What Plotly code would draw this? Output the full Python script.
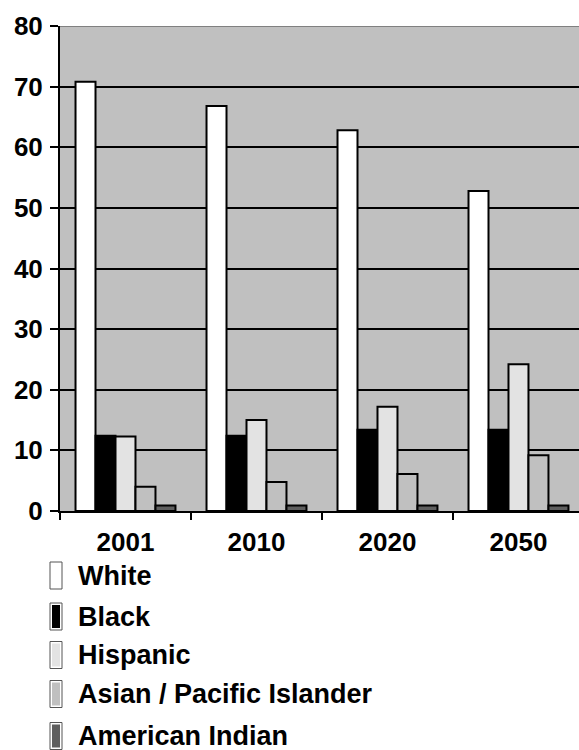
import plotly.graph_objects as go

# Population share by race/ethnicity (%)
years = ["2001", "2010", "2020", "2050"]
series_names = ["White", "Black", "Hispanic", "Asian / Pacific Islander", "American Indian"]
white = [70.8, 66.8, 62.8, 52.8]
black = [12.4, 12.4, 13.4, 13.4]
hispanic = [12.3, 15.0, 17.2, 24.2]
asian = [4.0, 4.8, 6.1, 9.2]
american_indian = [0.9, 0.9, 0.9, 0.9]
y_ticks = [0, 10, 20, 30, 40, 50, 60, 70, 80]

colors = ["#ffffff", "#000000", "#e3e3e3", "#c0c0c0", "#5f5f5f"]
values = [white, black, hispanic, asian, american_indian]

W, H = 579, 750
ML, MR, MT, MB = 60, 0, 26, 239
PW, PH = W - ML - MR, H - MT - MB

FONT = "Liberation Sans, Arial, sans-serif"

fig = go.Figure()
for name, vals, col in zip(series_names, values, colors):
    fig.add_trace(go.Bar(
        x=years, y=vals, name=name,
        marker=dict(color=col, line=dict(color="#000000", width=2)),
        showlegend=False,
    ))


def px_x(px):
    return (px - ML) / PW


def px_y(py):
    return (H - MB - py) / PH


shapes = []
annotations = []

# plot frame top edge in grey
shapes.append(dict(type="line", xref="paper", yref="y", x0=0, x1=1, y0=80, y1=80,
                   line=dict(color="#808080", width=2), layer="above"))

# legend rows: tall narrow swatches with bold labels
row_centers = [575.5, 616.5, 655, 694, 736]
for name, col, cy in zip(series_names, colors, row_centers):
    x0, x1 = 50, 62
    y0, y1 = cy - 13.5, cy + 13.5
    shapes.append(dict(type="rect", xref="paper", yref="paper",
                       x0=px_x(x0), x1=px_x(x1), y0=px_y(y1), y1=px_y(y0),
                       fillcolor="#ffffff", line=dict(color="#555555", width=1)))
    shapes.append(dict(type="rect", xref="paper", yref="paper",
                       x0=px_x(x0 + 2), x1=px_x(x1 - 2), y0=px_y(y1 - 2), y1=px_y(y0 + 2),
                       fillcolor=col, line=dict(width=0)))
    annotations.append(dict(xref="paper", yref="paper", x=px_x(76), y=px_y(cy),
                            xanchor="left", yanchor="middle", showarrow=False,
                            text="<b>%s</b>" % name,
                            font=dict(family=FONT, size=27, color="#000000")))

fig.update_layout(
    width=W, height=H,
    margin=dict(l=ML, r=MR, t=MT, b=MB, pad=0),
    paper_bgcolor="#ffffff",
    plot_bgcolor="#c0c0c0",
    barmode="group",
    bargap=0.237,
    bargroupgap=0,
    showlegend=False,
    shapes=shapes,
    annotations=annotations,
    font=dict(family=FONT, size=26, color="#000000"),
)

fig.update_xaxes(
    type="category",
    range=[-0.5, 3.462],
    tickson="boundaries",
    ticks="outside", ticklen=7, tickwidth=2, tickcolor="#000000",
    showline=True, linecolor="#000000", linewidth=2,
    showgrid=False,
    tickvals=years, ticktext=["<b>%s</b>" % y for y in years],
    tickfont=dict(family=FONT, size=26, color="#000000"),
    ticklabelstandoff=7,
)

fig.update_yaxes(
    range=[0, 80],
    tickvals=y_ticks, ticktext=["<b>%d</b>" % v for v in y_ticks],
    ticks="outside", ticklen=8, tickwidth=2, tickcolor="#000000",
    showline=True, linecolor="#000000", linewidth=2,
    showgrid=True, gridcolor="#000000", gridwidth=2,
    zeroline=False,
    tickfont=dict(family=FONT, size=26, color="#000000"),
    ticklabelstandoff=2,
)

fig.write_html("out.html")
